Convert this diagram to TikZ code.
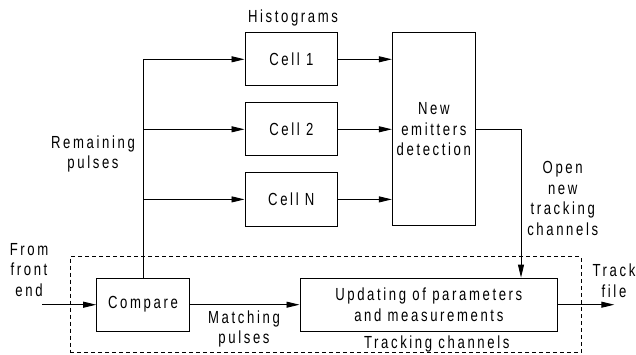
\documentclass[tikz,border=0pt]{standalone}
\usepackage{fontspec}
\setmainfont{Liberation Sans}[FakeStretch=0.75, LetterSpace=15]
\usetikzlibrary{arrows.meta}
\tikzset{
  cellbox/.style={
    draw, line width=0.9pt, minimum width=92.7pt, minimum height=53.3pt,
    inner sep=0pt, align=center
  },
  label/.style={inner sep=0pt, align=center},
  group/.style={draw, line width=0.8pt, dash pattern=on 4pt off 3pt},
  arrow/.style={-{Triangle[length=13pt, width=6pt]}, line width=0.9pt}
}

\begin{document}
\begin{tikzpicture}[x=1pt, y=-1pt, font=\fontsize{17.5}{20.8}\selectfont]
  \useasboundingbox (0,0) rectangle (636,355);

  % tracking channels group
  \node[group, minimum width=511pt, minimum height=96pt] (tracking) at (325.5,304.7) {};

  \node[cellbox] (cell1) at (291.3,59.3) {Cell 1};
  \node[cellbox] (cell2) at (291.3,129.3) {Cell 2};
  \node[cellbox] (cellN) at (291.3,199.4) {Cell N};
  \node[cellbox, minimum width=83pt, minimum height=193pt] (detect) at (433.8,129.2) {New\\emitters\\detection};
  \node[cellbox] (compare) at (143,304.7) {Compare};
  \node[cellbox, minimum width=257.7pt] (update) at (428.8,304.7) {Updating of parameters\\and measurements};

  \node[label] (histo) at (293,18) {Histograms};
  \node[label] (remain) at (93,154) {Remaining\\pulses};
  \node[label] (open) at (562.7,198.5) {Open\\new\\tracking\\channels};
  \node[label] (front) at (29,270) {From\\front\\end};
  \node[label] (match) at (244,329) {Matching\\pulses};
  \node[label] (chan) at (436.7,343.5) {Tracking channels};
  \node[label] (track) at (614,280.5) {Track\\file};

  \coordinate (src) at (42.3,304.7);
  \coordinate (turn) at (521,129.2);
  \coordinate (sink) at (614.3,304.7);

  \draw[arrow] (compare.north) |- (cell1.west);
  \draw[arrow] (compare.north |- cell2.west) -- (cell2.west);
  \draw[arrow] (compare.north |- cellN.west) -- (cellN.west);
  \draw[arrow] (cell1.east) -- (cell1 -| detect.west);
  \draw[arrow] (cell2.east) -- (cell2 -| detect.west);
  \draw[arrow] (cellN.east) -- (cellN -| detect.west);
  \draw[arrow] (detect.east) -- (turn) -- (turn |- update.north);
  \draw[arrow] (src) -- (compare.west);
  \draw[arrow] (compare) -- (update);
  \draw[arrow] (update) -- (sink);
\end{tikzpicture}
\end{document}
